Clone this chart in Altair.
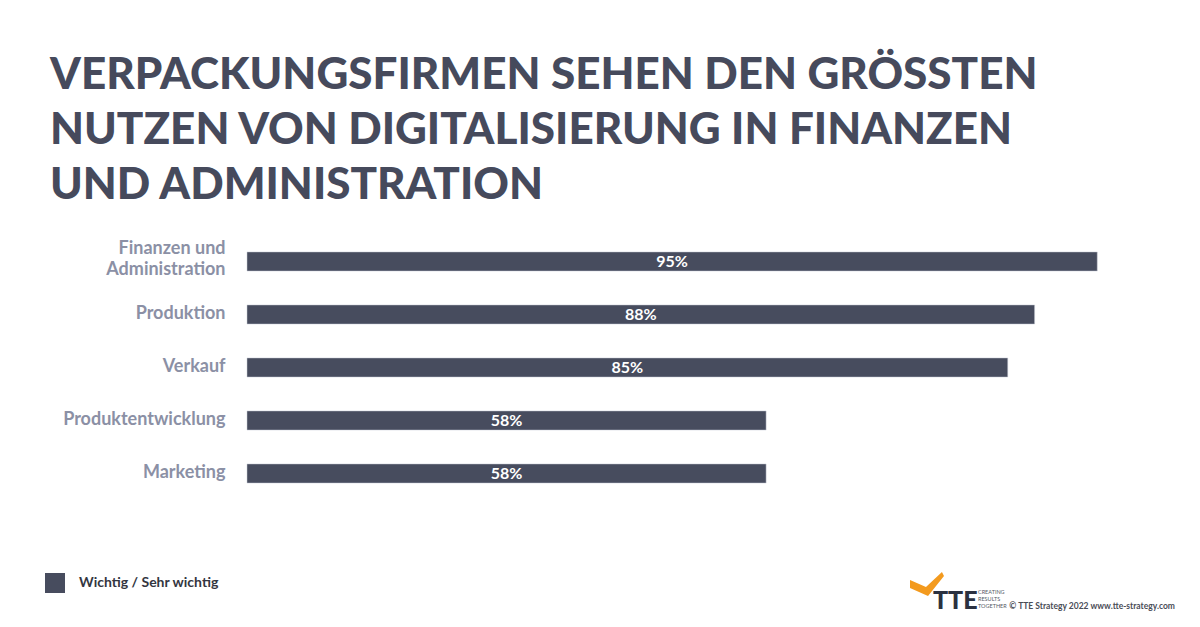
import altair as alt
import pandas as pd

categories = ["Finanzen und Administration", "Produktion", "Verkauf", "Produktentwicklung", "Marketing"]
values = [95, 88, 85, 58, 58]
labels = ["95%", "88%", "85%", "58%", "58%"]
series_name = "Wichtig / Sehr wichtig"

title_lines = [
    "VERPACKUNGSFIRMEN SEHEN DEN GRÖSSTEN",
    "NUTZEN VON DIGITALISIERUNG IN FINANZEN",
    "UND ADMINISTRATION",
]

BAR = "#474c5e"
TITLE = "#464a5c"
LABEL = "#8b90a5"

df = pd.DataFrame({"cat": categories, "value": values, "label": labels, "series": series_name})

y_enc = alt.Y(
    "cat:N",
    sort=categories,
    scale=alt.Scale(paddingInner=0.64, paddingOuter=0.32),
    axis=alt.Axis(
        title=None, domain=False, ticks=False, grid=False,
        labelFont="Lato", labelFontWeight="bold", labelFontSize=18,
        labelColor=LABEL, labelPadding=22, labelLineHeight=21,
        labelOffset={"condition": {"test": "datum.value == 'Finanzen und Administration'", "value": -13}, "value": -1},
        labelExpr="datum.label == 'Finanzen und Administration' ? ['Finanzen und', 'Administration'] : datum.label",
    ),
)

x_scale = alt.Scale(domain=[0, 100])

bars = alt.Chart(df).mark_bar(stroke="#c9ccd6", strokeWidth=0.5).encode(
    x=alt.X("value:Q", scale=x_scale, axis=None),
    y=y_enc,
    color=alt.Color(
        "series:N",
        scale=alt.Scale(range=[BAR]),
        legend=alt.Legend(
            title=None, orient="none", legendX=-202, legendY=338,
            symbolType="square", symbolSize=400, symbolStrokeWidth=0,
            labelFont="Lato", labelFontWeight="bold", labelFontSize=14,
            labelColor="#33363f", labelOffset=14,
        ),
    ),
)

text = alt.Chart(df).transform_calculate(half="datum.value / 2").mark_text(
    color="white", font="Lato", fontWeight="bold", fontSize=16, baseline="middle", align="center"
).encode(
    x=alt.X("half:Q", scale=x_scale),
    y=alt.Y("cat:N", sort=categories),
    text="label:N",
)

foot = pd.DataFrame({"t": ["© TTE Strategy 2022 www.tte-strategy.com"]})
copyright_ = alt.Chart(foot).mark_text(
    font="Lato", fontSize=8.5, fontWeight="bold", color="#4a4d57", align="right", baseline="middle"
).encode(x=alt.value(928), y=alt.value(371), text="t:N")

logo_tte = alt.Chart(pd.DataFrame({"t": ["TTE"]})).mark_text(
    font="Lato", fontWeight=900, fontSize=25, color="#2b3140", align="left", baseline="alphabetic"
).encode(x=alt.value(686), y=alt.value(374), text="t:N")

logo_small = alt.Chart(pd.DataFrame({"t": ["CREATING\nRESULTS\nTOGETHER"]})).mark_text(
    font="Lato", fontSize=5.5, color="#555a66", align="left", baseline="top",
    lineBreak="\n", lineHeight=7,
).encode(x=alt.value(731), y=alt.value(355), text="t:N")

check = alt.Chart(pd.DataFrame({"t": [1]})).mark_point(
    shape="M-1,-0.29 L-0.06,0.12 L0.88,-0.76 L1,-0.53 L0.06,0.65 L-1,0.18 Z",
    filled=True, color="#f39a1e", opacity=1, size=1156,
).encode(x=alt.value(680), y=alt.value(350))

chart = alt.layer(bars, text, copyright_, logo_tte, logo_small, check).properties(
    width=895,
    height=265,
    autosize=alt.AutoSizeParams(type="none"),
    padding={"left": 239, "top": 227, "right": 50, "bottom": 115},
    title=alt.TitleParams(
        text=title_lines,
        anchor="start",
        frame="group",
        dx=-197,
        offset=27,
        font="Lato",
        fontWeight=900,
        fontSize=44,
        lineHeight=55,
        color=TITLE,
    ),
).configure_view(stroke=None)

chart.save("out.html", embed_options={"renderer": "svg", "actions": False})
